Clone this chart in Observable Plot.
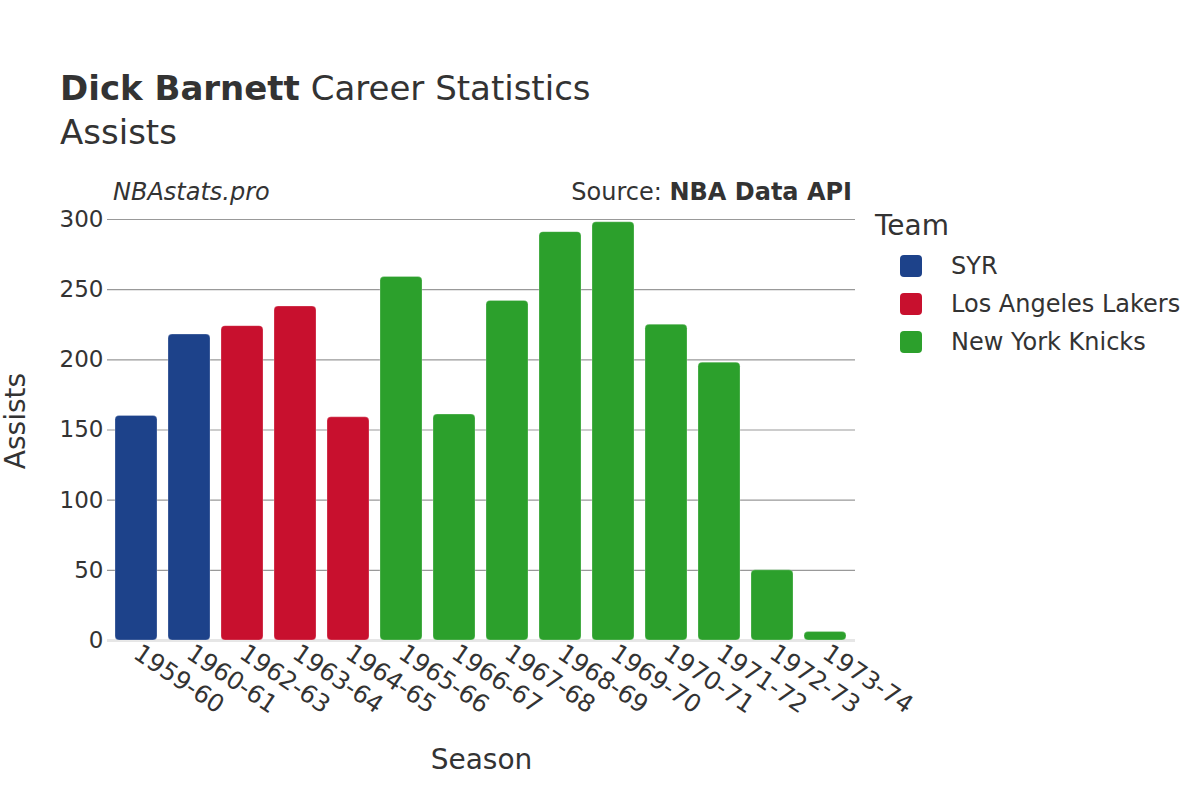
<!DOCTYPE html>
<html>
<head>
<meta charset="utf-8">
<script src="https://cdn.jsdelivr.net/npm/d3@7"></script>
<script src="https://cdn.jsdelivr.net/npm/@observablehq/plot@0.6"></script>
<style>
  html, body { margin: 0; padding: 0; background: #fff; }
  body { width: 1200px; height: 800px; position: relative; overflow: hidden; font-family: "DejaVu Sans", sans-serif; color: #333; }
  .abs { position: absolute; white-space: nowrap; }
  #chart { position: absolute; left: 0; top: 0; }
  .sw { position: absolute; width: 22px; height: 22px; border-radius: 4px; }
</style>
</head>
<body>
<div id="chart"></div>
<div class="abs" style="left:60px; top:67px; font-size:34px; line-height:42px;"><b>Dick Barnett</b> Career Statistics</div>
<div class="abs" style="left:60px; top:111px; font-size:34px; line-height:42px;">Assists</div>
<div class="abs" style="left:113px; top:177px; font-size:24px; line-height:30px; font-style:italic;">NBAstats.pro</div>
<div class="abs" style="right:348px; top:177px; font-size:24px; line-height:30px;">Source: <b>NBA Data API</b></div>
<div id="legend"></div>
<script>
const seasons = ["1959-60","1960-61","1962-63","1963-64","1964-65","1965-66","1966-67","1967-68","1968-69","1969-70","1970-71","1971-72","1972-73","1973-74"];
const assists = [160, 218, 224, 238, 159, 259, 161, 242, 291, 298, 225, 198, 50, 6];
const teams = ["SYR","SYR","Los Angeles Lakers","Los Angeles Lakers","Los Angeles Lakers","New York Knicks","New York Knicks","New York Knicks","New York Knicks","New York Knicks","New York Knicks","New York Knicks","New York Knicks","New York Knicks"];
const teamNames = ["SYR","Los Angeles Lakers","New York Knicks"];
const teamColors = ["#1d428a","#c8102e","#2ca02c"];
const yTicks = [0, 50, 100, 150, 200, 250, 300];

const data = seasons.map((s, i) => ({season: s, assists: assists[i], team: teams[i]}));

const chart = Plot.plot({
  width: 1200,
  height: 800,
  marginLeft: 107,
  marginRight: 345,
  marginTop: 219,
  marginBottom: 160,
  style: {fontFamily: "DejaVu Sans, sans-serif", fontSize: "23px", color: "#333", background: "transparent"},
  x: {domain: seasons, paddingInner: 0.2, paddingOuter: 0.1, label: null},
  y: {domain: [0, 300], label: null},
  color: {domain: teamNames, range: teamColors},
  marks: [
    Plot.ruleY(yTicks.filter(d => d > 0), {stroke: "#999", strokeWidth: 1.2}),
    Plot.ruleY([0], {stroke: "#e6e6e6", strokeWidth: 3}),
    Plot.barY(data, {x: "season", y: "assists", fill: "team", rx: 4, stroke: "#fff", strokeOpacity: 0.5, strokeWidth: 0.5}),
    Plot.axisY({ticks: yTicks, tickSize: 0, tickPadding: 4, fontSize: 23, fill: "#333"}),
    Plot.axisX({tickSize: 0, tickPadding: 10, tickRotate: 34, fontSize: 24.5, fill: "#333"}),
    Plot.text(["Season"], {frameAnchor: "bottom", lineAnchor: "middle", dy: 120, fontSize: 28, fill: "#333"}),
    Plot.text(["Assists"], {frameAnchor: "left", textAnchor: "middle", lineAnchor: "middle", dx: -91, dy: -9, rotate: -90, fontSize: 28, fill: "#333"})
  ]
});
document.getElementById("chart").appendChild(chart);

const legend = document.getElementById("legend");
const title = document.createElement("div");
title.className = "abs";
title.style.cssText = "left:875px; top:209px; font-size:28px; line-height:34px;";
title.textContent = "Team";
legend.appendChild(title);
teamNames.forEach((t, i) => {
  const sw = document.createElement("div");
  sw.className = "sw";
  sw.style.left = "900px";
  sw.style.top = (255 + i * 38) + "px";
  sw.style.background = teamColors[i];
  legend.appendChild(sw);
  const lab = document.createElement("div");
  lab.className = "abs";
  lab.style.cssText = `left:951px; top:${251 + i * 38}px; font-size:24px; line-height:30px;`;
  lab.textContent = t;
  legend.appendChild(lab);
});
</script>
</body>
</html>
